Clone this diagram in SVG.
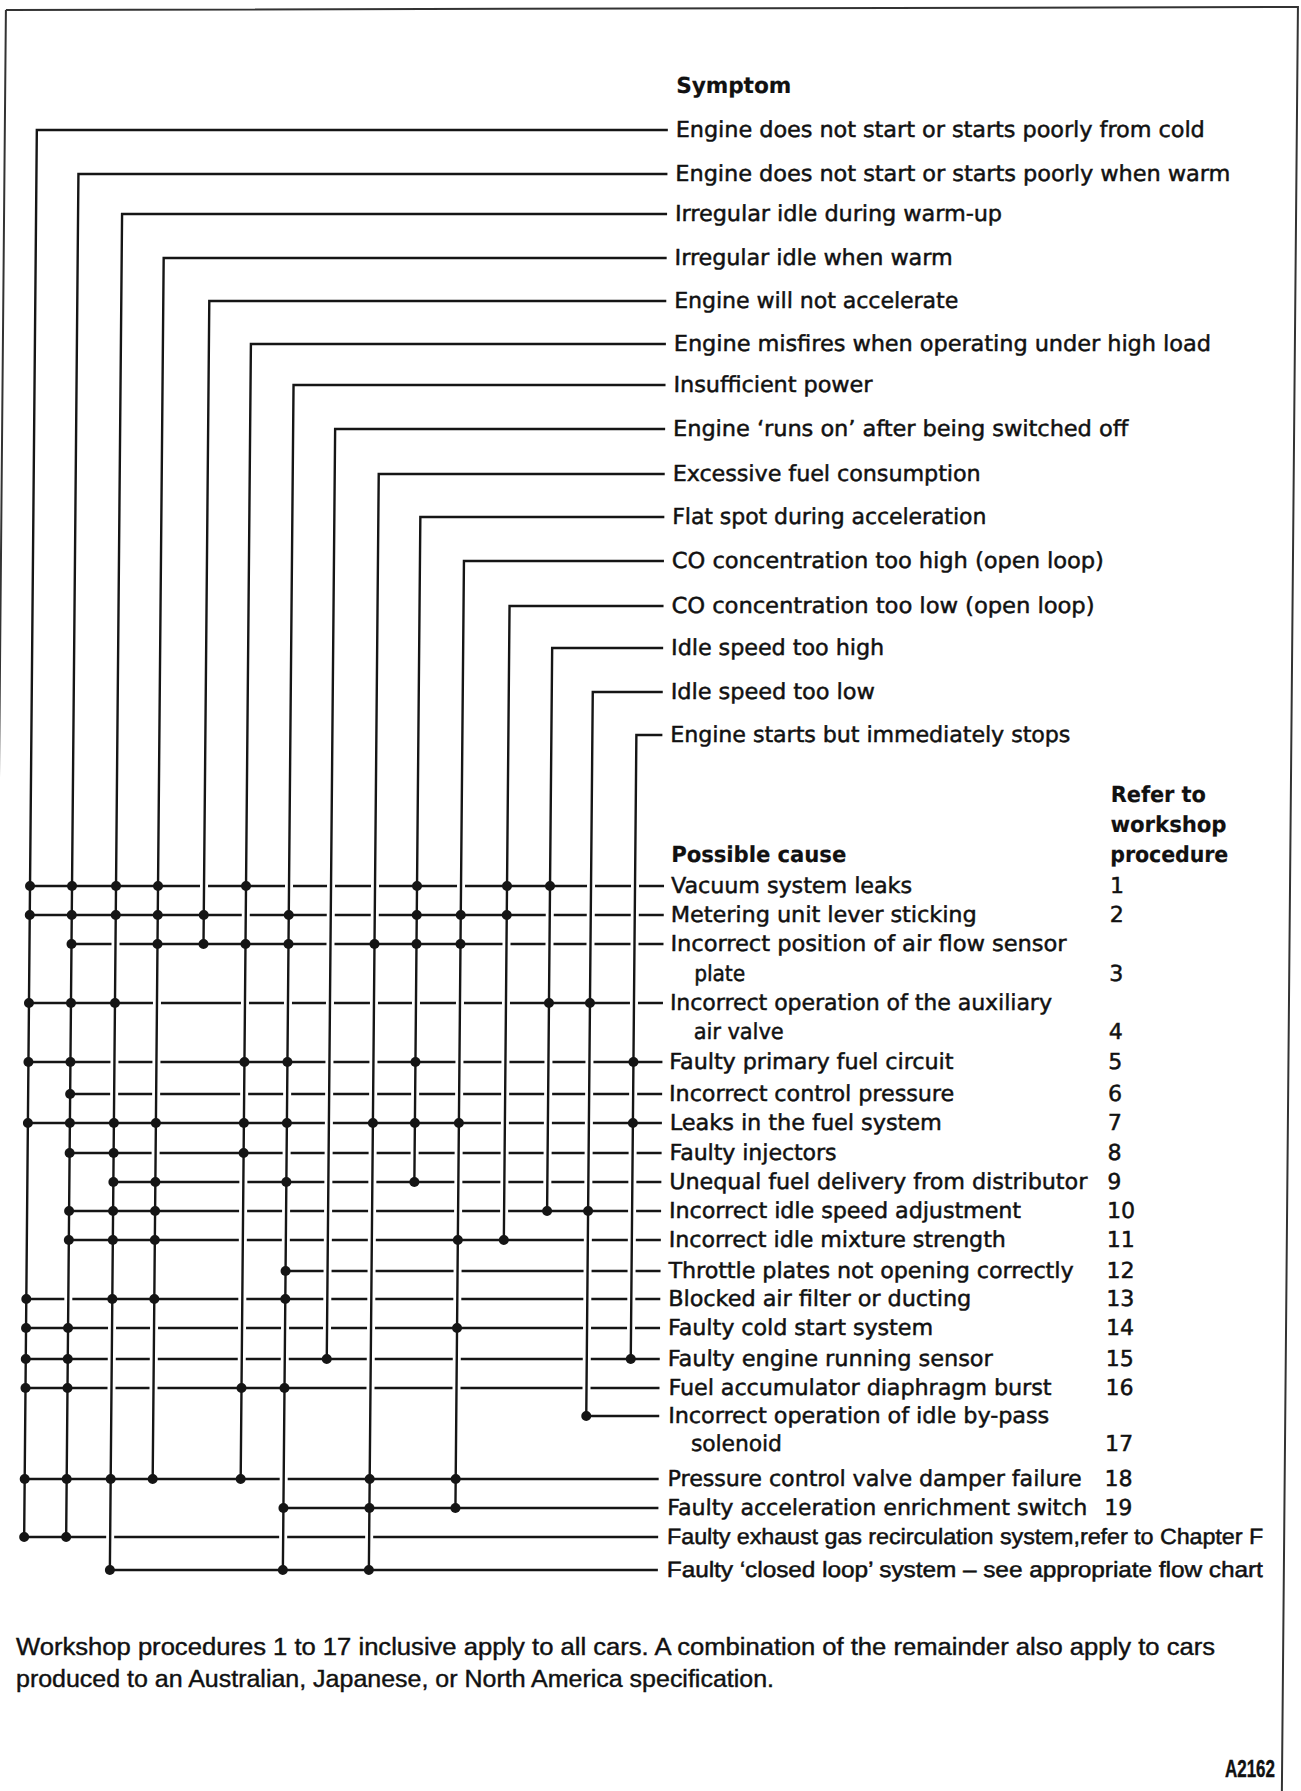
<svg xmlns="http://www.w3.org/2000/svg" width="1301" height="1791" viewBox="0 0 1301 1791">
<style>
.t{font-family:"DejaVu Sans","Liberation Sans",sans-serif;font-size:22px;fill:#111;stroke:#111;stroke-width:0.5}
.h{font-weight:bold;stroke-width:0.2}
.c{font-family:"Liberation Sans",Arial,sans-serif;font-size:22px;fill:#111;stroke:#111;stroke-width:0.5}
.ln{fill:none;stroke:#151515;stroke-width:2.4;stroke-linejoin:miter;stroke-linecap:butt}
.halo{fill:none;stroke:#fff;stroke-width:8}
.dot{fill:#151515}
.bd{fill:none;stroke:#333;stroke-width:2}
.ft{font-family:"Liberation Sans",Arial,sans-serif;font-size:23px;fill:#111;stroke:#111;stroke-width:0.4}
</style>
<rect width="1301" height="1791" fill="#fff"/>
<g transform="skewX(-0.5157)">
<path class="bd" d="M6 10 L1298 7 L1298 1791 M6 10 V1791"/>
<g id="connectors">
<g id="cause-lines" class="ln">
<path d="M38 886H672M38 915H672M80 944H672M38 1003H672M38 1062H672M80 1094H672M38 1123H672M80 1153H672M124 1182H672M80 1211H672M80 1240H672M297 1271H672M38 1299H672M38 1328H672M38 1359H672M38 1388H672M599 1416H672M38 1479H672M297 1508H672M38 1537H672M124 1570H672"/>
</g>
<g id="crossing-gaps" class="halo">
<path d="M38 868V1537M80 868V1537M124 868V1570M166 868V1479M212 868V944M254 868V1479M297 868V1570M339 868V1359M383 868V1570M425 868V1182M469 868V1508M515 868V1240M558 868V1211M599 868V1416M643 868V1359"/>
</g>
<g id="symptom-lines" class="ln">
<path d="M669 130H38V1537"/>
<path d="M669 174H80V1537"/>
<path d="M669 214H124V1570"/>
<path d="M669 258H166V1479"/>
<path d="M669 301H212V944"/>
<path d="M669 344H254V1479"/>
<path d="M669 385H297V1570"/>
<path d="M669 429H339V1359"/>
<path d="M669 474H383V1570"/>
<path d="M669 517H425V1182"/>
<path d="M669 561H469V1508"/>
<path d="M669 606H515V1240"/>
<path d="M669 648H558V1211"/>
<path d="M669 692H599V1416"/>
<path d="M669 735H643V1359"/>
</g>
<g id="junctions" class="dot">
<circle cx="38" cy="886" r="5"/><circle cx="80" cy="886" r="5"/><circle cx="124" cy="886" r="5"/><circle cx="166" cy="886" r="5"/><circle cx="254" cy="886" r="5"/><circle cx="425" cy="886" r="5"/><circle cx="515" cy="886" r="5"/><circle cx="558" cy="886" r="5"/>
<circle cx="38" cy="915" r="5"/><circle cx="80" cy="915" r="5"/><circle cx="124" cy="915" r="5"/><circle cx="166" cy="915" r="5"/><circle cx="212" cy="915" r="5"/><circle cx="297" cy="915" r="5"/><circle cx="425" cy="915" r="5"/><circle cx="469" cy="915" r="5"/><circle cx="515" cy="915" r="5"/>
<circle cx="80" cy="944" r="5"/><circle cx="166" cy="944" r="5"/><circle cx="212" cy="944" r="5"/><circle cx="254" cy="944" r="5"/><circle cx="297" cy="944" r="5"/><circle cx="383" cy="944" r="5"/><circle cx="425" cy="944" r="5"/><circle cx="469" cy="944" r="5"/>
<circle cx="38" cy="1003" r="5"/><circle cx="80" cy="1003" r="5"/><circle cx="124" cy="1003" r="5"/><circle cx="558" cy="1003" r="5"/><circle cx="599" cy="1003" r="5"/>
<circle cx="38" cy="1062" r="5"/><circle cx="80" cy="1062" r="5"/><circle cx="254" cy="1062" r="5"/><circle cx="297" cy="1062" r="5"/><circle cx="425" cy="1062" r="5"/><circle cx="643" cy="1062" r="5"/>
<circle cx="80" cy="1094" r="5"/>
<circle cx="38" cy="1123" r="5"/><circle cx="80" cy="1123" r="5"/><circle cx="124" cy="1123" r="5"/><circle cx="166" cy="1123" r="5"/><circle cx="254" cy="1123" r="5"/><circle cx="297" cy="1123" r="5"/><circle cx="383" cy="1123" r="5"/><circle cx="425" cy="1123" r="5"/><circle cx="469" cy="1123" r="5"/><circle cx="643" cy="1123" r="5"/>
<circle cx="80" cy="1153" r="5"/><circle cx="124" cy="1153" r="5"/><circle cx="254" cy="1153" r="5"/>
<circle cx="124" cy="1182" r="5"/><circle cx="166" cy="1182" r="5"/><circle cx="297" cy="1182" r="5"/><circle cx="425" cy="1182" r="5"/>
<circle cx="80" cy="1211" r="5"/><circle cx="124" cy="1211" r="5"/><circle cx="166" cy="1211" r="5"/><circle cx="558" cy="1211" r="5"/><circle cx="599" cy="1211" r="5"/>
<circle cx="80" cy="1240" r="5"/><circle cx="124" cy="1240" r="5"/><circle cx="166" cy="1240" r="5"/><circle cx="469" cy="1240" r="5"/><circle cx="515" cy="1240" r="5"/>
<circle cx="297" cy="1271" r="5"/>
<circle cx="38" cy="1299" r="5"/><circle cx="124" cy="1299" r="5"/><circle cx="166" cy="1299" r="5"/><circle cx="297" cy="1299" r="5"/>
<circle cx="38" cy="1328" r="5"/><circle cx="80" cy="1328" r="5"/><circle cx="469" cy="1328" r="5"/>
<circle cx="38" cy="1359" r="5"/><circle cx="80" cy="1359" r="5"/><circle cx="339" cy="1359" r="5"/><circle cx="643" cy="1359" r="5"/>
<circle cx="38" cy="1388" r="5"/><circle cx="80" cy="1388" r="5"/><circle cx="254" cy="1388" r="5"/><circle cx="297" cy="1388" r="5"/>
<circle cx="599" cy="1416" r="5"/>
<circle cx="38" cy="1479" r="5"/><circle cx="80" cy="1479" r="5"/><circle cx="124" cy="1479" r="5"/><circle cx="166" cy="1479" r="5"/><circle cx="254" cy="1479" r="5"/><circle cx="383" cy="1479" r="5"/><circle cx="469" cy="1479" r="5"/>
<circle cx="297" cy="1508" r="5"/><circle cx="383" cy="1508" r="5"/><circle cx="469" cy="1508" r="5"/>
<circle cx="38" cy="1537" r="5"/><circle cx="80" cy="1537" r="5"/>
<circle cx="124" cy="1570" r="5"/><circle cx="297" cy="1570" r="5"/><circle cx="383" cy="1570" r="5"/>
</g>
</g>
<g id="symptom-heading"><text class="t h" x="677" y="93" textLength="115" lengthAdjust="spacingAndGlyphs">Symptom</text></g>
<g id="s1"><text class="t" x="677" y="137" textLength="529" lengthAdjust="spacingAndGlyphs">Engine does not start or starts poorly from cold</text></g>
<g id="s2"><text class="t" x="677" y="181" textLength="555" lengthAdjust="spacingAndGlyphs">Engine does not start or starts poorly when warm</text></g>
<g id="s3"><text class="t" x="677" y="221" textLength="327" lengthAdjust="spacingAndGlyphs">Irregular idle during warm-up</text></g>
<g id="s4"><text class="t" x="677" y="265" textLength="278" lengthAdjust="spacingAndGlyphs">Irregular idle when warm</text></g>
<g id="s5"><text class="t" x="677" y="308" textLength="284" lengthAdjust="spacingAndGlyphs">Engine will not accelerate</text></g>
<g id="s6"><text class="t" x="677" y="351" textLength="537" lengthAdjust="spacingAndGlyphs">Engine misfires when operating under high load</text></g>
<g id="s7"><text class="t" x="677" y="392" textLength="199" lengthAdjust="spacingAndGlyphs">Insufficient power</text></g>
<g id="s8"><text class="t" x="677" y="436" textLength="455" lengthAdjust="spacingAndGlyphs">Engine ‘runs on’ after being switched off</text></g>
<g id="s9"><text class="t" x="677" y="481" textLength="308" lengthAdjust="spacingAndGlyphs">Excessive fuel consumption</text></g>
<g id="s10"><text class="t" x="677" y="524" textLength="314" lengthAdjust="spacingAndGlyphs">Flat spot during acceleration</text></g>
<g id="s11"><text class="t" x="677" y="568" textLength="432" lengthAdjust="spacingAndGlyphs">CO concentration too high (open loop)</text></g>
<g id="s12"><text class="t" x="677" y="613" textLength="423" lengthAdjust="spacingAndGlyphs">CO concentration too low (open loop)</text></g>
<g id="s13"><text class="t" x="677" y="655" textLength="213" lengthAdjust="spacingAndGlyphs">Idle speed too high</text></g>
<g id="s14"><text class="t" x="677" y="699" textLength="204" lengthAdjust="spacingAndGlyphs">Idle speed too low</text></g>
<g id="s15"><text class="t" x="677" y="742" textLength="400" lengthAdjust="spacingAndGlyphs">Engine starts but immediately stops</text></g>
<g id="refer-heading">
<text class="t h" x="1118" y="802" textLength="95" lengthAdjust="spacingAndGlyphs">Refer to</text>
<text class="t h" x="1118" y="832" textLength="116" lengthAdjust="spacingAndGlyphs">workshop</text>
<text class="t h" x="1118" y="862" textLength="118" lengthAdjust="spacingAndGlyphs">procedure</text>
</g>
<g id="cause-heading"><text class="t h" x="679" y="862" textLength="175" lengthAdjust="spacingAndGlyphs">Possible cause</text></g>
<g id="c1"><text class="t" x="679" y="893" textLength="241" lengthAdjust="spacingAndGlyphs">Vacuum system leaks</text><text class="t" x="1118" y="893">1</text></g>
<g id="c2"><text class="t" x="679" y="922" textLength="306" lengthAdjust="spacingAndGlyphs">Metering unit lever sticking</text><text class="t" x="1118" y="922">2</text></g>
<g id="c3"><text class="t" x="679" y="951" textLength="396" lengthAdjust="spacingAndGlyphs">Incorrect position of air flow sensor</text><text class="t" x="703" y="981" textLength="51" lengthAdjust="spacingAndGlyphs">plate</text><text class="t" x="1118" y="981">3</text></g>
<g id="c4"><text class="t" x="679" y="1010" textLength="382" lengthAdjust="spacingAndGlyphs">Incorrect operation of the auxiliary</text><text class="t" x="703" y="1039" textLength="90" lengthAdjust="spacingAndGlyphs">air valve</text><text class="t" x="1118" y="1039">4</text></g>
<g id="c5"><text class="t" x="679" y="1069" textLength="284" lengthAdjust="spacingAndGlyphs">Faulty primary fuel circuit</text><text class="t" x="1118" y="1069">5</text></g>
<g id="c6"><text class="t" x="679" y="1101" textLength="285" lengthAdjust="spacingAndGlyphs">Incorrect control pressure</text><text class="t" x="1118" y="1101">6</text></g>
<g id="c7"><text class="t" x="680" y="1130" textLength="272" lengthAdjust="spacingAndGlyphs">Leaks in the fuel system</text><text class="t" x="1118" y="1130">7</text></g>
<g id="c8"><text class="t" x="680" y="1160" textLength="167" lengthAdjust="spacingAndGlyphs">Faulty injectors</text><text class="t" x="1118" y="1160">8</text></g>
<g id="c9"><text class="t" x="680" y="1189" textLength="418" lengthAdjust="spacingAndGlyphs">Unequal fuel delivery from distributor</text><text class="t" x="1118" y="1189">9</text></g>
<g id="c10"><text class="t" x="680" y="1218" textLength="352" lengthAdjust="spacingAndGlyphs">Incorrect idle speed adjustment</text><text class="t" x="1118" y="1218">10</text></g>
<g id="c11"><text class="t" x="680" y="1247" textLength="337" lengthAdjust="spacingAndGlyphs">Incorrect idle mixture strength</text><text class="t" x="1118" y="1247">11</text></g>
<g id="c12"><text class="t" x="680" y="1278" textLength="405" lengthAdjust="spacingAndGlyphs">Throttle plates not opening correctly</text><text class="t" x="1118" y="1278">12</text></g>
<g id="c13"><text class="t" x="680" y="1306" textLength="303" lengthAdjust="spacingAndGlyphs">Blocked air filter or ducting</text><text class="t" x="1118" y="1306">13</text></g>
<g id="c14"><text class="t" x="680" y="1335" textLength="265" lengthAdjust="spacingAndGlyphs">Faulty cold start system</text><text class="t" x="1118" y="1335">14</text></g>
<g id="c15"><text class="t" x="680" y="1366" textLength="325" lengthAdjust="spacingAndGlyphs">Faulty engine running sensor</text><text class="t" x="1118" y="1366">15</text></g>
<g id="c16"><text class="t" x="681" y="1395" textLength="383" lengthAdjust="spacingAndGlyphs">Fuel accumulator diaphragm burst</text><text class="t" x="1118" y="1395">16</text></g>
<g id="c17"><text class="t" x="681" y="1423" textLength="381" lengthAdjust="spacingAndGlyphs">Incorrect operation of idle by-pass</text><text class="t" x="704" y="1451" textLength="91" lengthAdjust="spacingAndGlyphs">solenoid</text><text class="t" x="1118" y="1451">17</text></g>
<g id="c18"><text class="t" x="681" y="1486" textLength="414" lengthAdjust="spacingAndGlyphs">Pressure control valve damper failure</text><text class="t" x="1118" y="1486">18</text></g>
<g id="c19"><text class="t" x="681" y="1515" textLength="420" lengthAdjust="spacingAndGlyphs">Faulty acceleration enrichment switch</text><text class="t" x="1118" y="1515">19</text></g>
<g id="c20"><text class="c" x="681" y="1544" textLength="596" lengthAdjust="spacingAndGlyphs">Faulty exhaust gas recirculation system,refer to Chapter F</text></g>
<g id="c21"><text class="c" x="681" y="1577" textLength="596" lengthAdjust="spacingAndGlyphs">Faulty ‘closed loop’ system – see appropriate flow chart</text></g>
</g>
<g id="footnote">
<text class="ft" x="16" y="1655" textLength="1199" lengthAdjust="spacingAndGlyphs">Workshop procedures 1 to 17 inclusive apply to all cars. A combination of the remainder also apply to cars</text>
<text class="ft" x="16" y="1687" textLength="758" lengthAdjust="spacingAndGlyphs">produced to an Australian, Japanese, or North America specification.</text>
</g>
<g id="figure-code"><text class="ft" x="1225" y="1777" font-size="15" font-weight="bold" textLength="50" lengthAdjust="spacingAndGlyphs">A2162</text></g>
</svg>
